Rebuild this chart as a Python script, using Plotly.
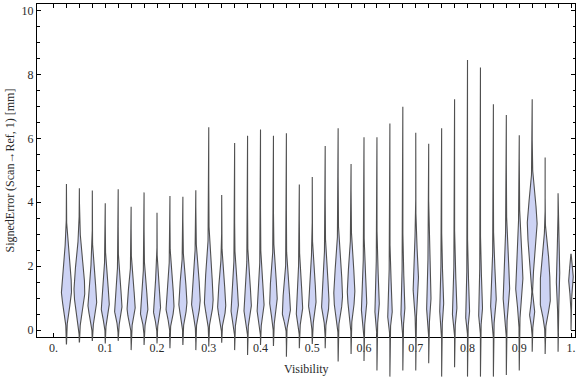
import numpy as np
import plotly.graph_objects as go

# ---- data ----
positions = [0.025, 0.05, 0.075, 0.1, 0.125, 0.15, 0.175, 0.2, 0.225, 0.25,
             0.275, 0.3, 0.325, 0.35, 0.375, 0.4, 0.425, 0.45, 0.475, 0.5,
             0.525, 0.55, 0.575, 0.6, 0.625, 0.65, 0.675, 0.7, 0.725, 0.75,
             0.775, 0.8, 0.825, 0.85, 0.875, 0.9, 0.925, 0.95, 0.975, 1.0]
maxima = [4.57, 4.44, 4.37, 3.97, 4.41, 3.86, 4.31, 3.67, 4.20, 4.17,
          4.38, 6.35, 4.23, 5.86, 6.08, 6.28, 6.08, 6.16, 4.56, 4.79,
          5.76, 6.32, 5.20, 6.04, 6.04, 6.47, 6.99, 6.18, 5.83, 6.32,
          7.23, 8.46, 8.22, 7.07, 6.73, 6.10, 7.23, 5.40, 4.28, 2.37]
minima = [-0.45, -0.39, -0.34, -0.42, -0.34, -0.63, -0.47, -0.42, -0.57, -0.47,
          -0.63, -0.52, -0.40, -0.63, -0.78, -0.47, -0.50, -0.84, -0.57, -0.44,
          -0.57, -0.99, -0.75, -0.97, -1.27, -1.46, -1.27, -1.27, -1.04, -1.46,
          -1.17, -1.46, -1.46, -1.46, -1.41, -1.27, -0.68, -0.75, -0.68, 0.0]
modes = [1.25, 1.20, 0.80, 0.72, 0.68, 0.65, 0.60, 0.62, 0.73, 0.84,
         0.90, 0.90, 0.73, 0.70, 0.70, 0.70, 0.90, 0.55, 0.63, 0.84,
         0.84, 1.03, 1.15, 0.74, 0.74, 0.50, 0.60, 1.46, 0.84, 0.70,
         0.60, 0.50, 0.60, 0.85, 1.15, 1.45, 3.30, 0.94, 1.56, 1.57]
# relative peak density (1 = widest violin)
peak_density = [0.94, 1.00, 0.81, 0.75, 0.70, 0.75, 0.70, 0.66, 0.75, 0.75,
                0.81, 0.81, 0.75, 0.70, 0.70, 0.66, 0.70, 0.75, 0.62, 0.70,
                0.70, 0.81, 0.70, 0.51, 0.43, 0.43, 0.38, 0.51, 0.43, 0.38,
                0.43, 0.38, 0.38, 0.53, 0.62, 0.68, 0.91, 0.94, 0.32, 0.43]
spread_below = [0.55, 0.55, 0.37, 0.33, 0.31, 0.30, 0.28, 0.28, 0.33, 0.38,
                0.40, 0.40, 0.33, 0.32, 0.32, 0.32, 0.40, 0.26, 0.29, 0.38,
                0.38, 0.46, 0.50, 0.34, 0.34, 0.24, 0.28, 0.62, 0.38, 0.32,
                0.28, 0.24, 0.28, 0.38, 0.50, 0.60, 0.90, 0.42, 0.60, 0.35]
spread_above = [0.85, 0.95, 0.80, 0.75, 0.70, 0.70, 0.70, 0.70, 0.75, 0.75,
                0.85, 1.00, 0.80, 0.80, 0.80, 0.80, 0.85, 0.80, 0.80, 0.85,
                0.90, 1.00, 0.90, 0.90, 0.90, 0.90, 0.90, 0.90, 0.90, 0.90,
                0.90, 0.90, 0.90, 0.95, 1.10, 1.10, 0.80, 0.85, 0.80, 0.35]
# secondary bumps (0 density = none)
mode2 = [0.0] * 36 + [0.50, 2.20, 0.0, 0.0]
density2 = [0.0] * 36 + [0.47, 0.38, 0.0, 0.0]
spread2 = [0.3] * 36 + [0.25, 0.50, 0.3, 0.3]

x_tick_vals = [0.0, 0.1, 0.2, 0.3, 0.4, 0.5, 0.6, 0.7, 0.8, 0.9, 1.0]
x_tick_text = ["0.", "0.1", "0.2", "0.3", "0.4", "0.5", "0.6", "0.7", "0.8", "0.9", "1."]
x_minor_vals = [0.0] + positions
y_tick_vals = [0, 2, 4, 6, 8, 10]

MAX_HALF_WIDTH = 0.0104
FILL = "#cdd3f4"
EDGE = "#505050"
FONT = "Liberation Serif"
TXT = "#2a2a2a"

fig = go.Figure()
# empty trace so the framed (x, y) subplot exists and draws its axes
fig.add_trace(go.Scatter(x=[None], y=[None], mode="lines", hoverinfo="skip",
                         xaxis="x", yaxis="y"))
for i, p in enumerate(positions):
    y = np.linspace(minima[i], maxima[i], 260)
    s = np.where(y < modes[i], spread_below[i], spread_above[i])
    w = peak_density[i] * np.exp(-0.5 * ((y - modes[i]) / s) ** 2)
    if density2[i] > 0:
        w = w + density2[i] * np.exp(-0.5 * ((y - mode2[i]) / spread2[i]) ** 2)
    w = w * MAX_HALF_WIDTH
    xs = np.concatenate([p + w, (p - w)[::-1]])
    ys = np.concatenate([y, y[::-1]])
    fig.add_trace(go.Scatter(
        x=xs, y=ys, mode="lines", fill="toself", fillcolor=FILL,
        line=dict(color=EDGE, width=1.1), xaxis="x", yaxis="y2",
        hoverinfo="skip",
    ))

fig.update_layout(
    width=576, height=377,
    margin=dict(l=37, r=1, t=4, b=0, autoexpand=False),
    paper_bgcolor="white", plot_bgcolor="rgba(0,0,0,0)",
    showlegend=False,
    xaxis=dict(
        range=[-0.0319, 1.0077], anchor="y", showgrid=False, zeroline=False,
        automargin=False,
        showline=True, linecolor="black", linewidth=1, mirror="ticks",
        ticks="inside", ticklen=4, tickcolor="black", tickwidth=1,
        tickvals=x_tick_vals, ticktext=x_tick_text,
        minor=dict(tickvals=x_minor_vals, ticks="inside", ticklen=4,
                   tickcolor="black", tickwidth=1, showgrid=False),
        tickfont=dict(family=FONT, size=12, color=TXT),
    ),
    yaxis=dict(
        domain=[0.108, 1.0], range=[-0.21, 10.21], anchor="x",
        showgrid=False, zeroline=False, automargin=False,
        showline=True, linecolor="black", linewidth=1, mirror="ticks",
        ticks="inside", ticklen=4, tickcolor="black", tickwidth=1,
        tickvals=y_tick_vals,
        minor=dict(dtick=0.5, ticks="inside", ticklen=2.5,
                   tickcolor="black", tickwidth=1, showgrid=False),
        tickfont=dict(family=FONT, size=12, color=TXT),
    ),
    yaxis2=dict(domain=[0.0, 1.0], range=[-1.472, 10.21], anchor="free",
                position=0.0, visible=False, showgrid=False, zeroline=False,
                automargin=False),
    annotations=[
        dict(text="Visibility", xref="paper", yref="paper", x=0.5, y=0.0214,
             xanchor="center", yanchor="middle", showarrow=False,
             font=dict(family=FONT, size=12, color=TXT)),
        dict(text="SignedError (Scan→Ref, 1) [mm]", xref="paper", yref="paper",
             x=-0.052, y=0.5536, xanchor="center", yanchor="middle",
             textangle=-90, showarrow=False,
             font=dict(family=FONT, size=12, color=TXT)),
    ],
)

fig.write_html("out.html",
               config={"displayModeBar": False, "staticPlot": True},
               post_script="document.body.style.margin='0';"
                           "document.body.style.overflow='hidden';")
